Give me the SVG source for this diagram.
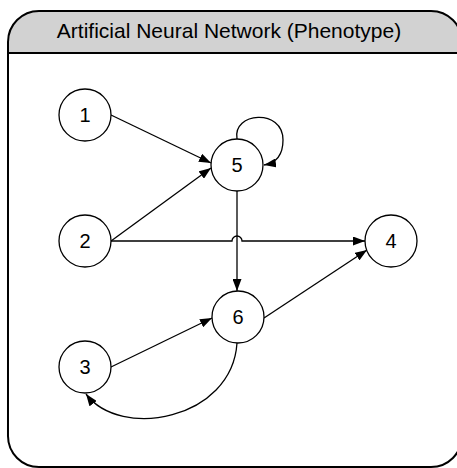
<svg xmlns="http://www.w3.org/2000/svg" width="457" height="468" viewBox="0 0 457 468">
<style>
.frame{fill:none;stroke:#000;stroke-width:2}
.node circle{fill:#fff;stroke:#000;stroke-width:1.3}
.node text{font-family:"Liberation Sans",Arial,sans-serif;font-size:20px;text-anchor:middle;fill:#000}
.title{font-family:"Liberation Sans",Arial,sans-serif;font-size:21px;text-anchor:middle;fill:#000}
#edges path{fill:none;stroke:#000;stroke-width:1.3}
</style>
<defs>
<clipPath id="fc"><rect x="8" y="11" width="454" height="456" rx="31" ry="31"/></clipPath>
<marker id="ah" viewBox="0 0 12 9" refX="12" refY="4.5" markerWidth="12" markerHeight="9" markerUnits="userSpaceOnUse" orient="auto">
<path d="M0,0 L12,4.5 L0,9 Z" fill="#000"/>
</marker>
</defs>
<rect x="0" y="0" width="457" height="468" fill="#fff"/>
<g id="frame">
<rect x="8" y="11" width="454" height="456" rx="31" ry="31" fill="#fff"/>
<rect x="8" y="11" width="454" height="42" fill="#d2d2d2" clip-path="url(#fc)"/>
<line x1="8" y1="53" x2="462" y2="53" stroke="#000" stroke-width="2"/>
<rect class="frame" x="8" y="11" width="454" height="456" rx="31" ry="31"/>
<text class="title" x="229" y="38">Artificial Neural Network (Phenotype)</text>
</g>
<g id="edges">
<path d="M111,115 L211,163" marker-end="url(#ah)"/>
<path d="M111,241 L211,168" marker-end="url(#ah)"/>
<path d="M111,241 L232,241 A5,5 0 0 1 242,241 L365,241" marker-end="url(#ah)"/>
<path d="M237,191 L237,291" marker-end="url(#ah)"/>
<path d="M237,139 C232,112 283,108 283,140 C283,155 276,163 264,165" marker-end="url(#ah)"/>
<path d="M111,367 L212,318" marker-end="url(#ah)"/>
<path d="M264,318 L367,250" marker-end="url(#ah)"/>
<path d="M237,343 C232,420 120,440 86,394" marker-end="url(#ah)"/>
</g>
<g id="n1" class="node"><circle cx="85" cy="115" r="26"/><text x="85" y="122">1</text></g>
<g id="n2" class="node"><circle cx="85" cy="241" r="26"/><text x="85" y="248">2</text></g>
<g id="n3" class="node"><circle cx="85" cy="367" r="26"/><text x="85" y="374">3</text></g>
<g id="n4" class="node"><circle cx="391" cy="241" r="26"/><text x="391" y="248">4</text></g>
<g id="n5" class="node"><circle cx="237" cy="165" r="26"/><text x="237" y="172">5</text></g>
<g id="n6" class="node"><circle cx="238" cy="317" r="26"/><text x="238" y="324">6</text></g>
</svg>
